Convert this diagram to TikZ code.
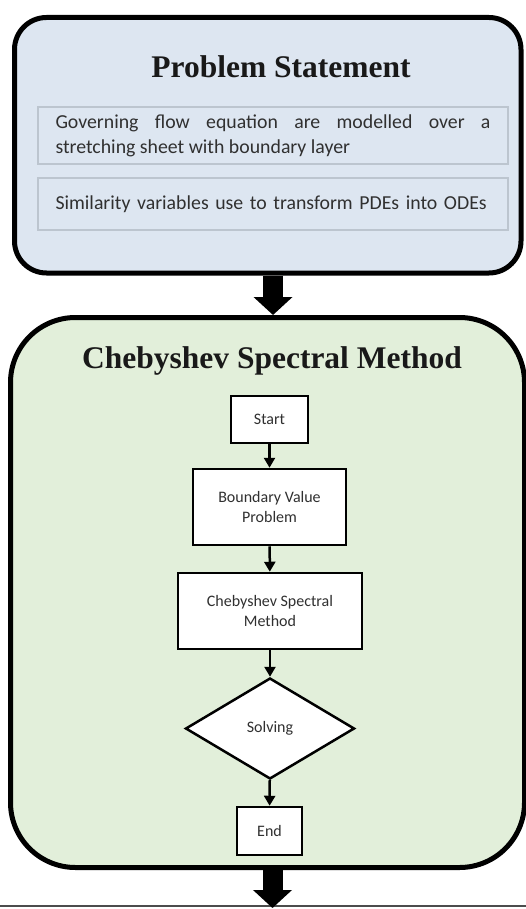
\documentclass[tikz,border=0pt]{standalone}
\usepackage{fontspec}
\setmainfont{Liberation Serif}
\newfontfamily\carlfont{Carlito}
\usetikzlibrary{shapes.geometric,arrows.meta}
\definecolor{bluefill}{HTML}{DDE6F1}
\definecolor{greenfill}{HTML}{E2EFDA}
\definecolor{innerborder}{HTML}{BCC5CF}
\definecolor{txtgray}{HTML}{303030}
\begin{document}
\begin{tikzpicture}[x=1pt,y=-1pt,
  panel/.style={draw=black, line width=5pt, rounded corners=#1, inner sep=0pt},
  panel/.default=32pt,
  title/.style={font=\fontsize{31.5}{36}\selectfont\bfseries, text=black!90, inner sep=0pt},
  inbox/.style={draw=innerborder, line width=2pt, fill=bluefill, minimum width=470pt, text width=435pt,
    font=\carlfont\fontsize{19.8}{25}\selectfont, text=txtgray, inner sep=0pt},
  flowbox/.style={draw=black, line width=2.5pt, fill=white, inner sep=0pt, align=center,
    font=\carlfont\fontsize{16}{20}\selectfont, text=txtgray},
  bigarrow/.style={line width=20pt, -{Triangle[width=38pt,length=18pt]}},
  smallarrow/.style={line width=2.5pt, -{Triangle[width=11pt,length=10pt]}}
]
\useasboundingbox (0,0) rectangle (526,909);
% outer panels
\node[panel=32pt, fill=bluefill, minimum width=506.5pt, minimum height=255.5pt] (top) at (267.75,145.25) {};
\node[panel=65pt, fill=greenfill, minimum width=514pt, minimum height=550pt] (green) at (267.5,592.5) {};
% titles
\node[title] (toptitle) at (281,67) {Problem Statement};
\node[title] (greentitle) at (272,361) {Chebyshev Spectral Method};
% inner boxes of problem statement
\node[inbox, minimum height=57pt, align=justify] (gov) at (273,136)
  {Governing flow equation are modelled over a\linebreak stretching sheet with boundary layer};
\node[inbox, minimum height=52pt, align=left] (sim) at (273,204)
  {Similarity variables use to transform PDEs into ODEs};
% flow chart
\node[flowbox, minimum width=77pt, minimum height=47pt] (start) at (269.5,419.5) {Start};
\node[flowbox, minimum width=153pt, minimum height=76pt] (bvp) at (269.5,507) {Boundary Value\\Problem};
\node[flowbox, minimum width=184pt, minimum height=76pt] (csm) at (270,611) {Chebyshev Spectral\\Method};
\node[flowbox, diamond, aspect=1.67, minimum width=169pt, minimum height=101pt] (solve) at (270,728.5) {Solving};
\node[flowbox, minimum width=65pt, minimum height=48pt] (endn) at (269.5,831) {End};
\draw[smallarrow] (start) -- (bvp);
\draw[smallarrow] (bvp) -- (csm);
\draw[smallarrow] (csm) -- (solve);
\draw[smallarrow] (solve) -- (endn);
% big arrows
\draw[bigarrow] (top.south -| 273,0) -- (green.north -| 273,0);
\coordinate (below) at (272.5,908);
\draw[draw=black!70, line width=2pt] (0,906) -- (526,906);
\draw[bigarrow] (green.south -| 272.5,0) -- (below);
\end{tikzpicture}
\end{document}
